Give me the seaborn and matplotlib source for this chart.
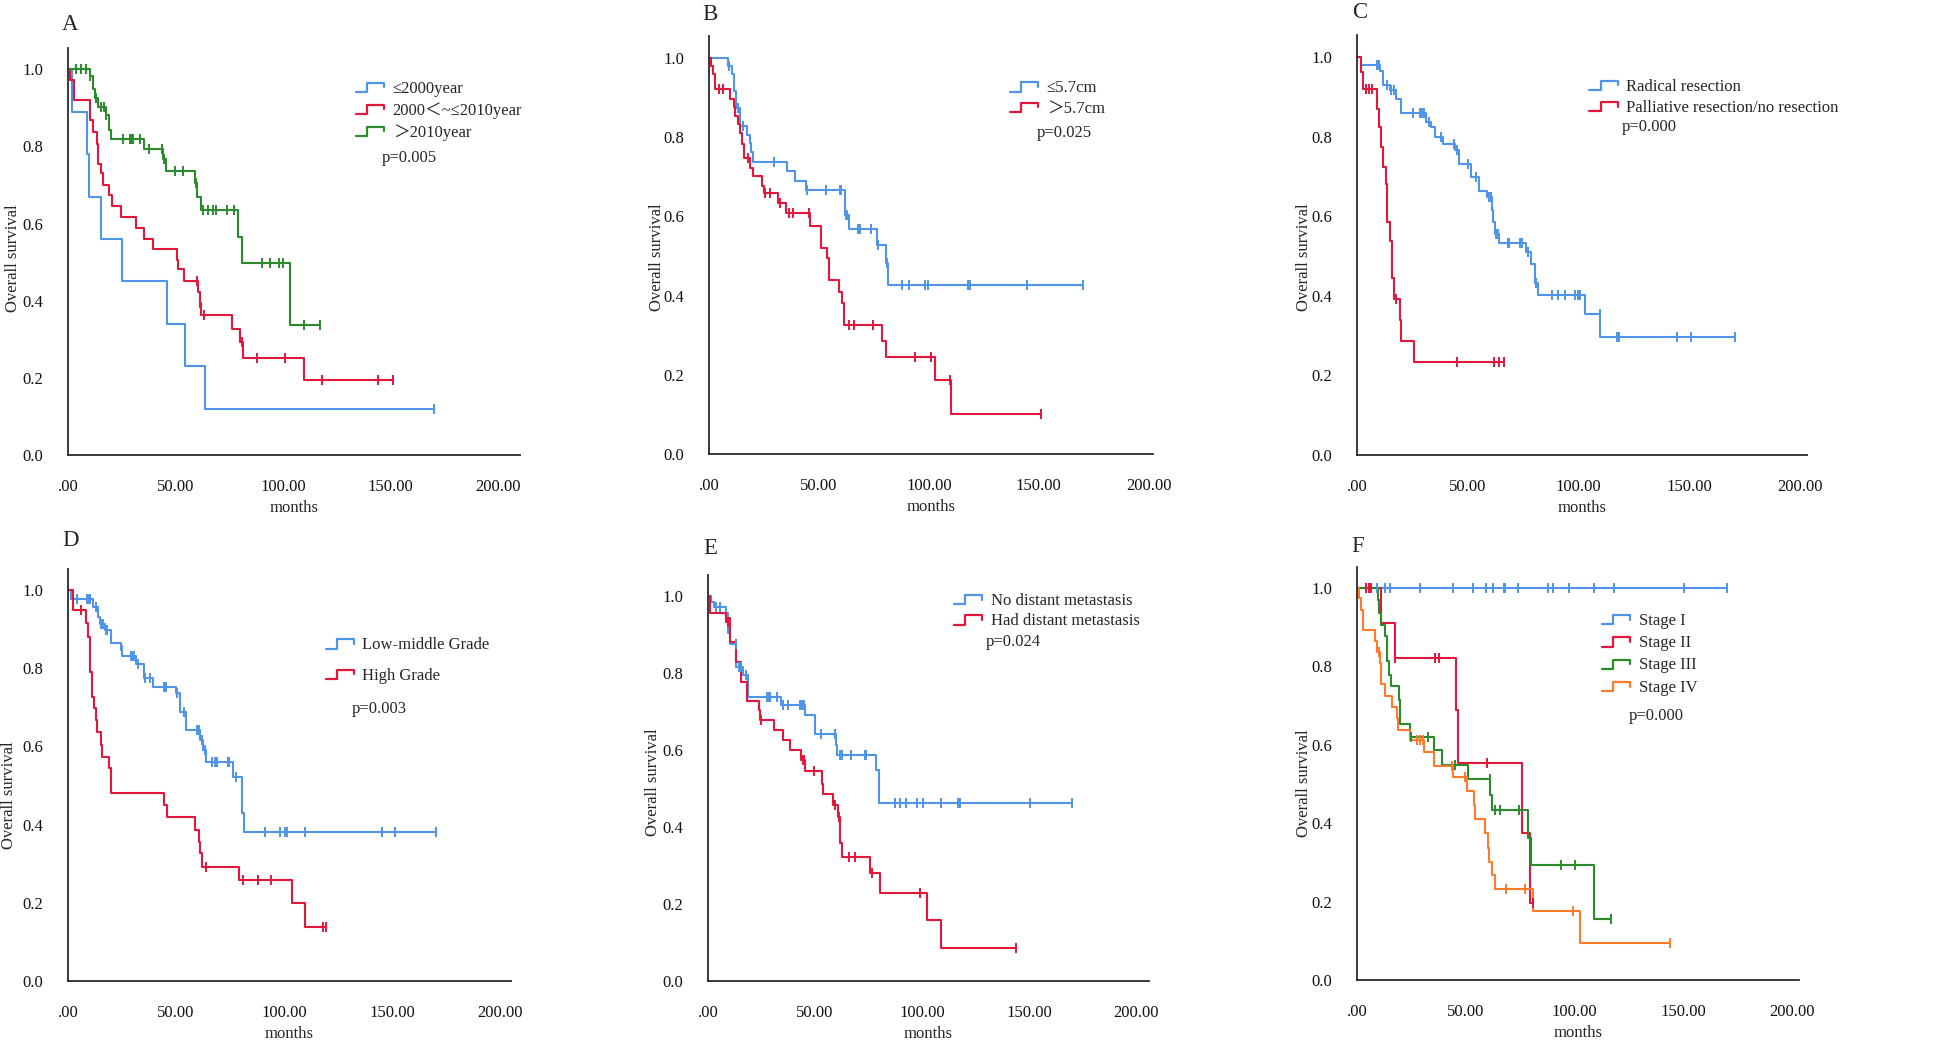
import numpy as np
import pandas as pd
import matplotlib
matplotlib.use("Agg")
import matplotlib.pyplot as plt
import seaborn as sns
from matplotlib.legend_handler import HandlerBase
from matplotlib.lines import Line2D

# ---- data (months, survival after each event, censor times) ----
# Panel A: year of diagnosis
a_blue_t = [2.0, 8.8, 9.8, 15.3, 25.3, 46.0, 54.6, 63.9]
a_blue_s = [0.89, 0.78, 0.67, 0.56, 0.45, 0.34, 0.23, 0.12]
a_blue_c = [170.0]
a_red_t = [0.8, 2.6, 10.4, 11.6, 13.3, 14.1, 15.5, 16.3, 19.1, 20.3, 24.5, 31.5, 35.3, 39.4,
           50.5, 51.2, 54.0, 60.6, 61.2, 61.9, 76.3, 80.2, 81.4, 109.6]
a_red_s = [0.973, 0.92, 0.868, 0.836, 0.807, 0.754, 0.73, 0.701, 0.674, 0.645, 0.617, 0.588, 0.561,
           0.535, 0.506, 0.481, 0.452, 0.423, 0.393, 0.364, 0.326, 0.294, 0.252, 0.194]
a_red_c = [59.8, 61.2, 63.4, 80.9, 87.8, 100.8, 118.3, 144.2, 151.2]
a_green_t = [10.1, 11.6, 12.4, 14.1, 17.5, 18.9, 19.8, 35.2, 44.2, 45.7, 58.9, 60.2, 62.0, 78.9, 80.9, 103.3]
a_green_s = [0.982, 0.95, 0.926, 0.902, 0.881, 0.842, 0.818, 0.794, 0.767, 0.735, 0.706, 0.669, 0.635,
             0.565, 0.497, 0.337]
a_green_c = [3.9, 6.2, 8.5, 10.4, 13.2, 15.5, 16.6, 17.8, 25.6, 28.7, 29.5, 30.2, 33.3, 37.7, 43.7, 44.8,
             49.9, 53.5, 59.5, 62.8, 65.1, 67.4, 69.0, 74.1, 77.4, 90.4, 93.8, 98.1, 100.0, 109.6, 117.1]

# Panel B: tumour size
b_blue_t = [8.5, 10.3, 11.2, 12.3, 13.9, 17.3, 18.5, 19.2, 20.0, 35.5, 39.2, 44.1, 62.0, 63.8, 76.4, 80.5, 81.5]
b_blue_s = [0.98, 0.958, 0.916, 0.874, 0.829, 0.806, 0.785, 0.762, 0.737, 0.714, 0.69, 0.667, 0.604,
            0.569, 0.528, 0.482, 0.427]
b_blue_c = [8.9, 13.0, 15.3, 29.4, 44.5, 53.3, 59.7, 60.2, 62.4, 63.0, 67.6, 68.5, 73.9, 77.1, 81.0,
            87.9, 90.8, 98.3, 99.5, 117.7, 118.8, 144.5, 170.3]
b_red_t = [1.1, 1.8, 2.6, 9.7, 11.2, 11.7, 13.0, 13.9, 14.8, 15.8, 18.5, 20.0, 24.1, 25.2, 31.4, 35.2,
           46.1, 50.9, 53.6, 54.4, 59.2, 60.3, 61.2, 78.6, 80.6, 102.9, 110.0]
b_red_s = [0.98, 0.958, 0.92, 0.896, 0.876, 0.854, 0.832, 0.81, 0.783, 0.747, 0.722, 0.701, 0.677, 0.659,
           0.634, 0.608, 0.575, 0.52, 0.495, 0.44, 0.41, 0.38, 0.326, 0.284, 0.246, 0.187, 0.1]
b_red_c = [4.4, 6.2, 17.7, 25.6, 27.9, 32.1, 36.2, 38.0, 45.3, 63.5, 65.8, 74.8, 93.5, 101.0, 109.7, 151.0]

# Panel C: resection
c_blue_t = [1.95, 10.2, 11.7, 14.7, 17.7, 19.7, 31.2, 33.2, 35.0, 39.0, 44.4, 46.2, 51.3, 54.9, 58.7,
            60.8, 61.5, 62.1, 63.9, 76.2, 78.5, 80.1, 81.5, 102.9, 109.7]
c_blue_s = [0.979, 0.965, 0.929, 0.916, 0.895, 0.858, 0.837, 0.824, 0.80, 0.781, 0.766, 0.732, 0.699,
            0.664, 0.647, 0.615, 0.586, 0.554, 0.533, 0.51, 0.481, 0.431, 0.402, 0.353, 0.297]
c_blue_c = [9.2, 9.9, 13.5, 15.4, 16.6, 25.2, 28.5, 29.4, 30.0, 32.7, 37.9, 43.9, 45.2, 49.9, 53.7, 59.6,
            60.5, 62.7, 63.5, 67.9, 68.7, 73.5, 74.4, 77.3, 80.9, 87.8, 90.6, 93.8, 98.4, 99.9, 100.7,
            109.5, 117.5, 118.2, 144.2, 150.8, 170.3]
c_red_t = [1.95, 2.7, 9.0, 9.9, 11.0, 11.7, 12.9, 13.7, 14.7, 15.9, 16.7, 19.2, 19.95, 25.5]
c_red_s = [0.962, 0.92, 0.87, 0.823, 0.774, 0.724, 0.68, 0.586, 0.538, 0.444, 0.393, 0.339, 0.287, 0.233]
c_red_c = [4.2, 5.4, 6.75, 17.7, 45.0, 62.0, 64.2, 66.5]

# Panel D: grade
d_blue_t = [1.5, 11.6, 13.9, 14.6, 16.9, 19.7, 24.3, 25.1, 31.6, 35.0, 39.3, 50.1, 51.6, 54.7, 60.9,
            62.4, 63.9, 76.3, 80.4, 81.4]
d_blue_s = [0.976, 0.957, 0.932, 0.913, 0.898, 0.864, 0.847, 0.83, 0.812, 0.774, 0.753, 0.736, 0.689,
            0.642, 0.616, 0.591, 0.561, 0.523, 0.429, 0.382]
d_blue_c = [4.2, 8.8, 9.7, 10.3, 13.1, 15.4, 16.2, 17.7, 18.2, 24.8, 29.0, 29.6, 30.4, 32.4, 35.7, 38.0,
            44.2, 45.0, 45.5, 50.4, 53.9, 59.8, 60.4, 62.0, 63.2, 63.6, 66.6, 67.8, 69.0, 73.9, 74.7,
            77.8, 91.2, 98.3, 100.2, 101.2, 109.9, 145.1, 151.4, 170.5]
d_red_t = [2.3, 8.2, 9.2, 10.0, 10.9, 11.9, 13.1, 13.6, 15.1, 15.7, 18.8, 19.7, 20.0, 44.4, 45.9, 58.6,
           60.6, 61.3, 61.9, 79.0, 103.7, 109.9]
d_red_s = [0.949, 0.915, 0.881, 0.791, 0.727, 0.697, 0.668, 0.638, 0.604, 0.574, 0.544, 0.51, 0.48,
           0.45, 0.42, 0.386, 0.356, 0.328, 0.292, 0.258, 0.199, 0.137]
d_red_c = [6.2, 63.9, 81.2, 88.1, 94.0, 118.2, 119.4]

# Panel E: distant metastasis
e_blue_t = [1.6, 2.8, 8.3, 9.3, 10.4, 13.2, 16.4, 18.7, 34.3, 45.2, 49.8, 59.7, 60.3, 78.3, 79.9]
e_blue_s = [0.985, 0.971, 0.955, 0.903, 0.877, 0.816, 0.795, 0.739, 0.717, 0.691, 0.641, 0.613, 0.587,
            0.548, 0.463]
e_blue_c = [3.6, 5.8, 12.9, 14.5, 15.6, 17.9, 27.6, 28.3, 29.1, 32.4, 35.0, 37.4, 43.1, 43.9, 44.7, 53.0,
            59.2, 61.5, 62.6, 67.0, 73.5, 74.0, 87.2, 89.9, 92.7, 97.4, 100.2, 109.0, 116.8, 117.6,
            150.3, 169.8]
e_red_t = [1.1, 8.3, 10.4, 12.9, 15.6, 18.4, 23.7, 24.5, 30.7, 35.0, 38.5, 43.6, 45.3, 53.4, 53.7, 58.4,
           60.9, 61.5, 62.8, 75.5, 80.5, 102.3, 109.0]
e_red_s = [0.957, 0.933, 0.881, 0.829, 0.777, 0.727, 0.704, 0.678, 0.652, 0.626, 0.6, 0.574, 0.546,
           0.513, 0.487, 0.457, 0.427, 0.358, 0.323, 0.281, 0.229, 0.158, 0.087]
e_red_c = [9.3, 10.1, 24.6, 44.4, 45.0, 49.4, 59.5, 61.2, 65.7, 68.5, 76.8, 99.2, 143.8]

# Panel F: stage
f_blue_t = []
f_blue_s = []
f_blue_c = [9.2, 13.0, 15.3, 29.1, 44.0, 53.3, 59.3, 62.5, 67.4, 68.2, 73.9, 87.7, 90.0, 97.6, 109.1,
            118.0, 150.2, 170.1]
f_red_t = [11.2, 17.3, 45.7, 46.3, 75.9, 79.7]
f_red_s = [0.912, 0.821, 0.689, 0.553, 0.374, 0.196]
f_red_c = [4.1, 5.4, 6.6, 17.6, 35.7, 37.5, 59.8, 80.8]
f_green_t = [9.5, 10.3, 11.0, 13.0, 13.8, 14.9, 15.6, 19.2, 19.9, 24.5, 35.2, 39.1, 50.9, 61.3, 62.1,
             78.6, 80.2, 109.1]
f_green_s = [0.97, 0.936, 0.906, 0.877, 0.813, 0.779, 0.749, 0.715, 0.654, 0.621, 0.587, 0.549, 0.512,
             0.472, 0.434, 0.362, 0.294, 0.155]
f_green_c = [24.7, 32.6, 44.9, 61.0, 63.3, 65.6, 74.6, 93.8, 100.4, 116.8]
f_orange_t = [0.8, 1.8, 2.6, 8.1, 9.2, 10.7, 11.2, 13.0, 16.1, 18.4, 18.9, 24.2, 31.0, 35.2, 44.0, 50.6,
              53.6, 54.4, 59.0, 60.1, 60.8, 62.1, 63.6, 80.8, 102.7]
f_orange_s = [0.974, 0.945, 0.894, 0.864, 0.838, 0.809, 0.755, 0.725, 0.696, 0.668, 0.638, 0.613, 0.581,
              0.547, 0.519, 0.483, 0.447, 0.41, 0.374, 0.336, 0.302, 0.268, 0.231, 0.177, 0.095]
f_orange_c = [10.0, 27.6, 29.1, 30.2, 43.8, 49.8, 68.7, 77.4, 99.2, 144.1]

labels_a = ["≤2000year", "2000＜~≤2010year", "＞2010year"]
labels_b = ["≤5.7cm", "＞5.7cm"]
labels_c = ["Radical resection", "Palliative resection/no resection"]
labels_d = ["Low-middle Grade", "High Grade"]
labels_e = ["No distant metastasis", "Had distant metastasis"]
labels_f = ["Stage I", "Stage II", "Stage III", "Stage IV"]
p_values = ["p=0.005", "p=0.025", "p=0.000", "p=0.003", "p=0.024", "p=0.000"]
panel_letters = ["A", "B", "C", "D", "E", "F"]

x_ticks = [0, 50, 100, 150, 200]
x_tick_labels = [".00", "50.00", "100.00", "150.00", "200.00"]
y_ticks = [0.0, 0.2, 0.4, 0.6, 0.8, 1.0]

# ---- styling ----
BLUE = "#4F94E8"
RED = "#E3163C"
GREEN = "#2B8A2B"
ORANGE = "#FF7A2A"
FS = 12

sns.set_style("white")
plt.rcParams["font.family"] = ["Liberation Serif", "Noto Sans CJK SC", "DejaVu Sans"]
plt.rcParams["axes.unicode_minus"] = False

W, H = 1960, 1040


class StepHandler(HandlerBase):
    def create_artists(self, legend, orig_handle, xdescent, ydescent, width, height, fontsize, trans):
        x0 = -xdescent
        y0 = -ydescent
        xs = [x0, x0 + 0.4 * width, x0 + 0.4 * width, x0 + width, x0 + width]
        ys = [y0 + 0.05 * height, y0 + 0.05 * height, y0 + 0.85 * height, y0 + 0.85 * height, y0 + 0.45 * height]
        ln = Line2D(xs, ys, color=orig_handle.get_color(), linewidth=1.6, transform=trans)
        return [ln]


def km_curve(ax, times, surv, cens, color):
    last = max(list(times) + list(cens))
    t = np.array([0.0] + list(times) + [last])
    s = np.array([1.0] + list(surv) + [surv[-1] if len(surv) else 1.0])
    df = pd.DataFrame({"t": t, "s": s})
    sns.lineplot(data=df, x="t", y="s", drawstyle="steps-post", estimator=None, sort=False,
                 color=color, linewidth=1.5, ax=ax, legend=False)
    tt = np.array([0.0] + list(times))
    ss = np.array([1.0] + list(surv))
    cy = ss[np.searchsorted(tt, np.array(cens), side="right") - 1]
    sns.scatterplot(x=cens, y=cy, marker="|", s=55, color=color, linewidth=1.4, ax=ax, legend=False, zorder=3)


# pixel layout of each panel: left, bottom, width, height, xmax
layout = [
    (68, 455, 451.5, 407, 210),
    (709, 454, 444, 418, 202),
    (1357, 455, 450, 420, 203),
    (68, 981, 443, 412.5, 205),
    (708, 981, 441, 406, 206),
    (1357, 980, 441.5, 413.5, 203),
]
ylabel_pos = [(-0.104, 0.484), (-0.099, 0.471), (-0.100, 0.471), (-0.116, 0.451), (-0.107, 0.49), (-0.102, 0.476)]
legend_pos = [(0.638, 0.92), (0.678, 0.894), (0.516, 0.896), (0.582, 0.833), (0.558, 0.956), (0.555, 0.888)]
legend_gap = [0.32, 0.26, 0.32, 0.86, 0.26, 0.38]
p_pos = [(0.695, 0.73), (0.739, 0.768), (0.589, 0.781), (0.641, 0.659), (0.63, 0.835), (0.616, 0.638)]
letter_pos = [(62, 25), (702, 15), (1352, 12), (62, 540), (703, 549), (1351, 546)]

panels = [
    [(a_blue_t, a_blue_s, a_blue_c, BLUE), (a_red_t, a_red_s, a_red_c, RED), (a_green_t, a_green_s, a_green_c, GREEN)],
    [(b_blue_t, b_blue_s, b_blue_c, BLUE), (b_red_t, b_red_s, b_red_c, RED)],
    [(c_blue_t, c_blue_s, c_blue_c, BLUE), (c_red_t, c_red_s, c_red_c, RED)],
    [(d_blue_t, d_blue_s, d_blue_c, BLUE), (d_red_t, d_red_s, d_red_c, RED)],
    [(e_blue_t, e_blue_s, e_blue_c, BLUE), (e_red_t, e_red_s, e_red_c, RED)],
    [(f_blue_t, f_blue_s, f_blue_c, BLUE), (f_red_t, f_red_s, f_red_c, RED),
     (f_green_t, f_green_s, f_green_c, GREEN), (f_orange_t, f_orange_s, f_orange_c, ORANGE)],
]
panel_labels = [labels_a, labels_b, labels_c, labels_d, labels_e, labels_f]

fig = plt.figure(figsize=(W / 100, H / 100), dpi=100)

for i, curves in enumerate(panels):
    left, bottom, width, height, xmax = layout[i]
    ax = fig.add_axes([left / W, (H - bottom) / H, width / W, height / H])
    for times, surv, cens, color in curves:
        km_curve(ax, times, surv, cens, color)
    ax.set_xlim(0, xmax)
    ax.set_ylim(0, 1.055)
    ax.set_xticks(x_ticks)
    ax.set_xticklabels(x_tick_labels)
    ax.set_yticks(y_ticks)
    ax.set_yticklabels([f"{v:.1f}" for v in y_ticks])
    ax.tick_params(axis="x", length=0, pad=17, labelsize=FS, colors="#111111")
    ax.tick_params(axis="y", length=0, pad=18, labelsize=FS, colors="#111111")
    for side in ["top", "right"]:
        ax.spines[side].set_visible(False)
    for side in ["left", "bottom"]:
        ax.spines[side].set_color("#2a2a2a")
        ax.spines[side].set_linewidth(1.3)
    ax.set_xlabel("months", fontsize=FS, labelpad=4)
    ax.set_ylabel("Overall survival", fontsize=FS)
    ax.yaxis.set_label_coords(*ylabel_pos[i])

    handles = [Line2D([0], [0], color=c[3]) for c in curves]
    ax.legend(handles, panel_labels[i], handler_map={Line2D: StepHandler()},
              loc="upper left", bbox_to_anchor=legend_pos[i], frameon=False,
              fontsize=FS, handlelength=1.7, handletextpad=0.5, labelspacing=legend_gap[i],
              borderpad=0, borderaxespad=0)
    ax.text(p_pos[i][0], p_pos[i][1], p_values[i], transform=ax.transAxes, fontsize=FS,
            ha="left", va="center")
    lx, ly = letter_pos[i]
    fig.text(lx / W, 1 - ly / H, panel_letters[i], fontsize=16.5, ha="left", va="center")

fig.savefig("out.png", dpi=100, facecolor="white")
